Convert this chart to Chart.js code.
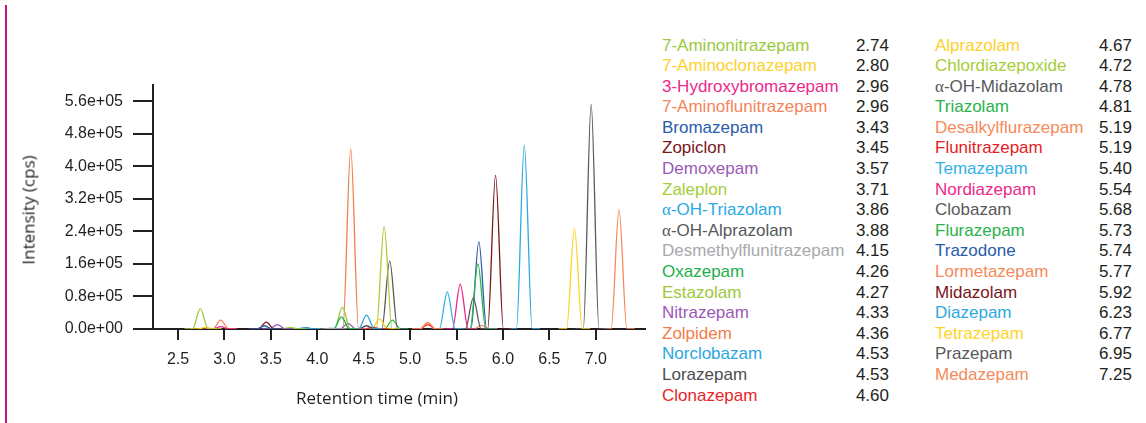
<!DOCTYPE html>
<html>
<head>
<meta charset="utf-8">
<script src="https://cdn.jsdelivr.net/npm/chart.js@4.4.1/dist/chart.umd.min.js"></script>
<style>
  body { margin: 0; width: 1146px; height: 423px; background: #fff; position: relative; overflow: hidden;
         font-family: "Liberation Sans", Arial, sans-serif; }
  #rule { position: absolute; left: 5px; top: 5px; width: 1.6px; height: 418px; background: #c4177c; }
  #wrap { position: absolute; left: 0; top: 0; width: 660px; height: 423px; }
  .axis-title { position: absolute; font-family: "Open Sans", sans-serif; font-size: 17px; color: #231f20; white-space: nowrap; }
  #xtitle { left: 377px; top: 397px; transform: translate(-50%, -50%); }
  #ytitle { left: 28px; top: 210px; transform: translate(-50%, -50%) rotate(-90deg); }
  .legend { position: absolute; top: 35.5px; font-size: 17px; line-height: 20.6px; }
  .legend .row { display: flex; justify-content: space-between; white-space: nowrap; }
  .legend .rt { color: #231f20; }
  .alpha { font-family: "Liberation Serif", serif; }
  #leg1 { left: 662px; width: 227px; }
  #leg2 { left: 935px; width: 197px; }
</style>
</head>
<body>
<div id="rule"></div>
<div id="wrap"><canvas id="chrom" width="660" height="423"></canvas></div>
<div class="axis-title" id="ytitle">Intensity (cps)</div>
<div class="axis-title" id="xtitle">Retention time (min)</div>
<div class="legend" id="leg1"></div>
<div class="legend" id="leg2"></div>
<script>
const compounds = [
  '7-Aminonitrazepam', '7-Aminoclonazepam', '3-Hydroxybromazepam', '7-Aminoflunitrazepam',
  'Bromazepam', 'Zopiclon', 'Demoxepam', 'Zaleplon', 'α-OH-Triazolam', 'α-OH-Alprazolam',
  'Desmethylflunitrazepam', 'Oxazepam', 'Estazolam', 'Nitrazepam', 'Zolpidem', 'Norclobazam',
  'Lorazepam', 'Clonazepam',
  'Alprazolam', 'Chlordiazepoxide', 'α-OH-Midazolam', 'Triazolam', 'Desalkylflurazepam',
  'Flunitrazepam', 'Temazepam', 'Nordiazepam', 'Clobazam', 'Flurazepam', 'Trazodone',
  'Lormetazepam', 'Midazolam', 'Diazepam', 'Tetrazepam', 'Prazepam', 'Medazepam'
];
const retentionTimes = [
  2.74, 2.80, 2.96, 2.96, 3.43, 3.45, 3.57, 3.71, 3.86, 3.88, 4.15, 4.26, 4.27, 4.33, 4.36, 4.53,
  4.53, 4.60,
  4.67, 4.72, 4.78, 4.81, 5.19, 5.19, 5.40, 5.54, 5.68, 5.73, 5.74, 5.77, 5.92, 6.23, 6.77, 6.95, 7.25
];
const peakHeights = [
  50000, 4000, 6000, 22000, 8000, 17000, 11000, 4000, 2500, 3500, 2000, 30000, 54000, 14000, 443000, 34000,
  8000, 4000,
  25000, 252000, 167000, 22000, 16000, 11000, 91000, 110000, 76000, 160000, 215000, 9000, 378000, 452000,
  248000, 552000, 294000
];
const traceColors = [
  '#9aca3c', '#fdd22a', '#ec2a8c', '#f5845a', '#2a5caa', '#7a1518', '#9b59b6', '#a6ce39', '#2baae2', '#58595b',
  '#a7a9ac', '#1db04b', '#9cc83c', '#9b59b6', '#f47c4c', '#29a8e0', '#4d4d4f', '#e8262a',
  '#fdd02a', '#a6ce39', '#58595b', '#2ab24a', '#f58a5a', '#e31e26', '#33b1e5', '#ec2a8c', '#58595b',
  '#2ab24a', '#2a5caa', '#f58a5a', '#7a1518', '#2ba9e0', '#fdd42a', '#58595b', '#f58a5a'
];
const xTicks = [2.5, 3.0, 3.5, 4.0, 4.5, 5.0, 5.5, 6.0, 6.5, 7.0];
const yTicks = [0, 80000, 160000, 240000, 320000, 400000, 480000, 560000];
const yTickLabels = ['0.0e+00', '0.8e+05', '1.6e+05', '2.4e+05', '3.2e+05', '4.0e+05', '4.8e+05', '5.6e+05'];

const PEAK_HALF_WIDTH = 0.085; // min, foot to apex
const INK = '#231f20';
const tickFont = { family: '"Liberation Sans", Arial, sans-serif', size: 16 };

// one peak per compound; the flat points either side give it soft feet under monotone splines
const datasets = compounds.map((name, i) => {
  const rt = retentionTimes[i];
  return {
    label: name,
    data: [
      { x: rt - 2 * PEAK_HALF_WIDTH, y: 0 },
      { x: rt - PEAK_HALF_WIDTH, y: 0 },
      { x: rt, y: peakHeights[i] },
      { x: rt + PEAK_HALF_WIDTH, y: 0 },
      { x: rt + 2 * PEAK_HALF_WIDTH, y: 0 }
    ],
    borderColor: traceColors[i],
    borderWidth: 1.3,
    pointRadius: 0,
    cubicInterpolationMode: 'monotone',
    fill: false
  };
});

new Chart(document.getElementById('chrom'), {
  type: 'line',
  data: { datasets },
  options: {
    responsive: false,
    animation: false,
    devicePixelRatio: 1,
    layout: { padding: { top: 85, right: 15, left: 0, bottom: 0 } },
    plugins: { legend: { display: false }, tooltip: { enabled: false } },
    scales: {
      x: {
        type: 'linear',
        min: 2.23,
        max: 7.53,
        afterBuildTicks: s => { s.ticks = xTicks.map(v => ({ value: v })); },
        afterFit: s => { s.height = 94; },
        ticks: { color: INK, font: tickFont, padding: 10, maxRotation: 0, callback: v => v.toFixed(1) },
        grid: { drawOnChartArea: false, tickLength: 11, color: INK, lineWidth: 2 },
        border: { color: INK, width: 2 }
      },
      y: {
        min: 0,
        max: 600000,
        afterBuildTicks: s => { s.ticks = yTicks.map(v => ({ value: v })); },
        afterFit: s => { s.width = 153; },
        ticks: { color: INK, font: tickFont, padding: 10, callback: (v, i) => yTickLabels[i] },
        grid: { drawOnChartArea: false, tickLength: 20, color: INK, lineWidth: 2 },
        border: { color: INK, width: 2 }
      }
    }
  }
});

// two-column compound list with retention times
function legendRow(i) {
  const name = compounds[i].replace(/^α/, '<span class="alpha">α</span>');
  return '<div class="row"><span style="color:' + traceColors[i] + '">' + name +
         '</span><span class="rt">' + retentionTimes[i].toFixed(2) + '</span></div>';
}
let col1 = '', col2 = '';
compounds.forEach((c, i) => { if (i < 18) col1 += legendRow(i); else col2 += legendRow(i); });
document.getElementById('leg1').innerHTML = col1;
document.getElementById('leg2').innerHTML = col2;
</script>
</body>
</html>
